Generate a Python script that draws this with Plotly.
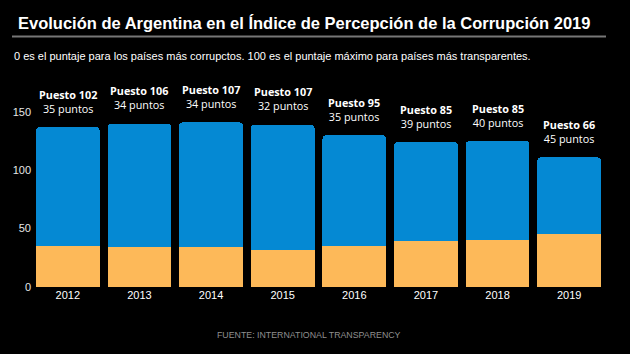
import plotly.graph_objects as go

years = ["2012", "2013", "2014", "2015", "2016", "2017", "2018", "2019"]
puntos = [35, 34, 34, 32, 35, 39, 40, 45]
puesto = [102, 106, 107, 107, 95, 85, 85, 66]
ytick_vals = [0, 50, 100, 150]

BLUE = "#0589d3"
ORANGE = "#fdb959"

W, H = 630, 354
ML, MR, MT, MB = 32, 25, 85, 67
PW, PH = W - ML - MR, H - MT - MB


def px(x):
    return (x - ML) / PW


def py(y):
    return (H - MB - y) / PH


fig = go.Figure()
fig.add_trace(go.Bar(x=years, y=puntos, marker=dict(color=ORANGE, line=dict(width=0)),
                     hoverinfo="skip", name="Puntos"))
fig.add_trace(go.Bar(x=years, y=puesto, marker=dict(color=BLUE, line=dict(width=0)),
                     hoverinfo="skip", name="Puesto"))

for i, (pt, ps) in enumerate(zip(puntos, puesto)):
    total = pt + ps
    fig.add_annotation(x=i, y=total, yref="y", xref="x",
                       text=f"<b>Puesto {ps}</b><br>{pt} puntos",
                       showarrow=False, yanchor="middle", yshift=26, borderpad=0,
                       font=dict(family="Open Sans", size=10.8, color="#ffffff"))

fig.add_annotation(x=px(16), y=py(23), xref="paper", yref="paper",
                   text="<b>Evolución de Argentina en el Índice de Percepción de la Corrupción 2019</b>",
                   showarrow=False, xanchor="left", yanchor="middle",
                   font=dict(family="Liberation Sans", size=16.5, color="#ffffff"))
fig.add_annotation(x=px(12), y=py(56), xref="paper", yref="paper",
                   text="0 es el puntaje para los países más corrupctos. 100 es el puntaje máximo para países más transparentes.",
                   showarrow=False, xanchor="left", yanchor="middle",
                   font=dict(family="Liberation Sans", size=11, color="#ffffff"))
fig.add_annotation(x=px(309), y=py(335), xref="paper", yref="paper",
                   text="FUENTE: INTERNATIONAL TRANSPARENCY",
                   showarrow=False, xanchor="center", yanchor="middle",
                   font=dict(family="Liberation Sans", size=8.8, color="#8f8f8f"))
fig.add_shape(type="line", xref="paper", yref="paper",
              x0=px(12), x1=px(606), y0=py(36.5), y1=py(36.5),
              line=dict(color="#777777", width=2))

fig.update_layout(
    width=W, height=H,
    margin=dict(l=ML, r=MR, t=MT, b=MB),
    paper_bgcolor="#000000", plot_bgcolor="#000000",
    barmode="stack", bargap=0.11, barcornerradius=4,
    showlegend=False,
    xaxis=dict(type="category", showgrid=False, zeroline=False, showline=False, ticks="",
               tickfont=dict(family="Liberation Sans", size=11, color="#ffffff")),
    yaxis=dict(range=[0, 173], tickvals=ytick_vals, showgrid=False, zeroline=False,
               showline=False, ticks="",
               tickfont=dict(family="Liberation Sans", size=11, color="#e6e6e6")),
)

fig.write_html("out.html")
